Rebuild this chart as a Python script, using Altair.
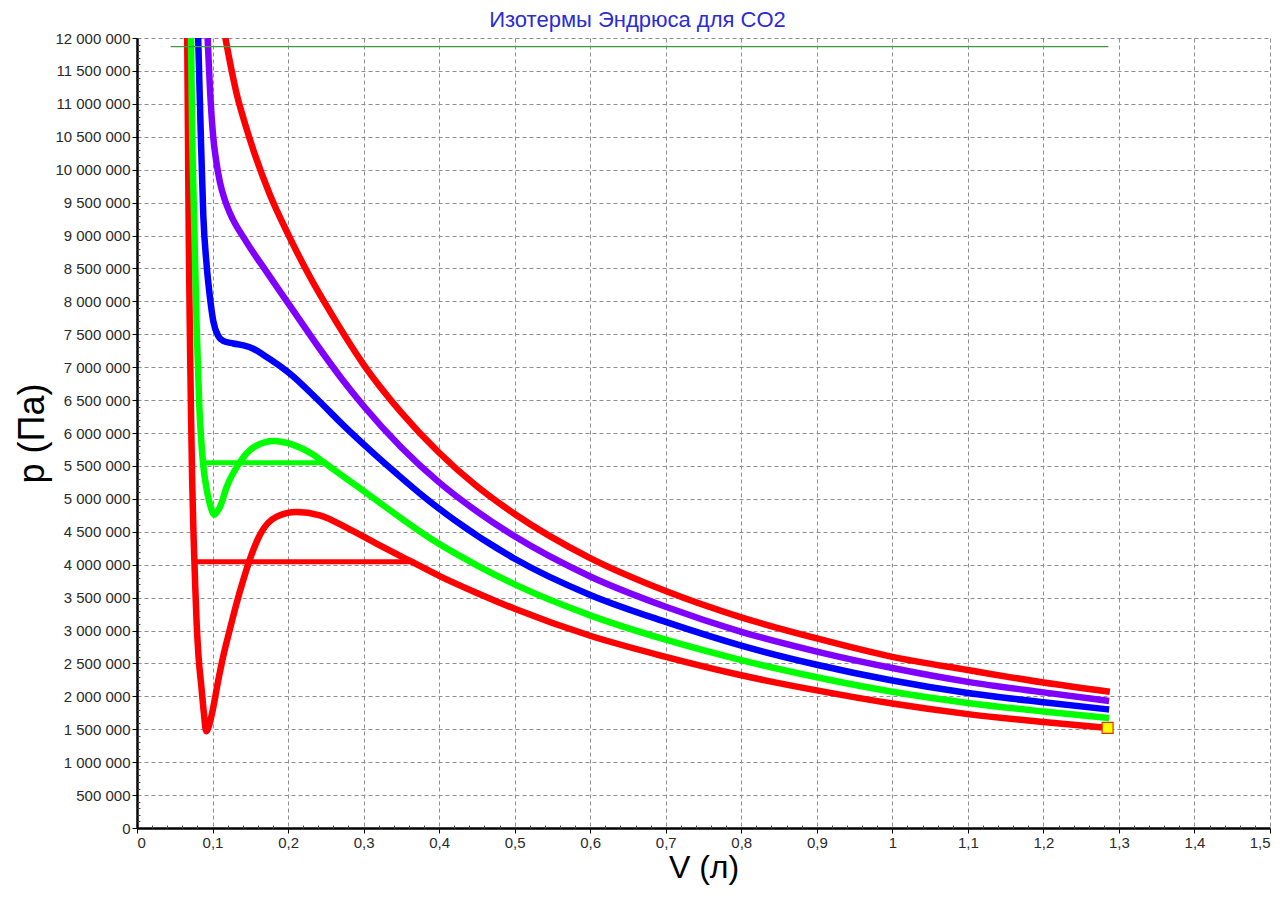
import altair as alt
import pandas as pd

# ---- values (V in litres, p in MPa) ----
V_t1 = [0.0665, 0.0675, 0.0685, 0.070, 0.0715, 0.073, 0.075, 0.077, 0.079, 0.0815, 0.0852,
        0.0885, 0.0916, 0.0955, 0.0997, 0.1077, 0.115, 0.123, 0.132, 0.1408, 0.150, 0.163,
        0.185, 0.211, 0.242, 0.278, 0.317, 0.361, 0.40, 0.45, 0.50, 0.60, 0.70, 0.80, 0.90,
        1.00, 1.10, 1.20, 1.286]
P_t1 = [12.0, 10.5, 9.0, 7.5, 6.3, 5.3, 4.4, 3.7, 3.1, 2.6, 2.15,
        1.75, 1.47, 1.56, 1.76, 2.25, 2.65, 3.02, 3.42, 3.77, 4.10, 4.46,
        4.73, 4.80, 4.75, 4.56, 4.32, 4.06, 3.83, 3.57, 3.33, 2.92, 2.60, 2.32, 2.09,
        1.89, 1.73, 1.61, 1.52]

V_t2 = [0.0715, 0.073, 0.0755, 0.079, 0.0825, 0.0856, 0.0878, 0.0922, 0.0975, 0.1024, 0.110,
        0.1187, 0.1364, 0.154, 0.1805, 0.207, 0.2335, 0.2467, 0.273, 0.3085, 0.3526, 0.388,
        0.45, 0.50, 0.60, 0.70, 0.80, 0.90, 1.00, 1.10, 1.20, 1.287]
P_t2 = [12.0, 10.6, 9.3, 7.6, 6.4, 5.8, 5.5, 5.15, 4.88, 4.76, 4.88,
        5.18, 5.56, 5.78, 5.88, 5.82, 5.67, 5.56, 5.34, 5.05, 4.68, 4.40,
        3.99, 3.70, 3.23, 2.86, 2.55, 2.29, 2.07, 1.90, 1.77, 1.67]

V_t3 = [0.081, 0.0843, 0.0878, 0.0922, 0.0967, 0.101, 0.1077, 0.114, 0.1275, 0.141, 0.154,
        0.167, 0.189, 0.2026, 0.238, 0.273, 0.3085, 0.344, 0.379, 0.42, 0.50, 0.60, 0.70,
        0.80, 0.90, 1.00, 1.10, 1.20, 1.287]
P_t3 = [12.0, 10.6, 9.3, 8.55, 8.05, 7.7, 7.47, 7.40, 7.36, 7.33, 7.28,
        7.19, 7.02, 6.90, 6.52, 6.12, 5.74, 5.38, 5.04, 4.68, 4.09, 3.54, 3.13,
        2.77, 2.48, 2.24, 2.05, 1.91, 1.80]

V_t4 = [0.0935, 0.0965, 0.1005, 0.105, 0.110, 0.116, 0.123, 0.145, 0.172, 0.2026, 0.24,
        0.27, 0.30, 0.35, 0.40, 0.45, 0.50, 0.60, 0.70, 0.80, 0.90, 1.00, 1.10, 1.20, 1.287]
P_t4 = [12.0, 11.25, 10.55, 10.12, 9.80, 9.55, 9.34, 8.90, 8.44, 7.93, 7.31,
        6.84, 6.41, 5.78, 5.25, 4.81, 4.43, 3.82, 3.36, 2.98, 2.68, 2.43, 2.22, 2.06, 1.93]

V_t5 = [0.117, 0.1245, 0.132, 0.143, 0.154, 0.176, 0.20, 0.23, 0.26, 0.30, 0.35, 0.40, 0.45,
        0.50, 0.60, 0.70, 0.80, 0.90, 1.00, 1.10, 1.20, 1.288]
P_t5 = [12.0, 11.55, 11.15, 10.70, 10.30, 9.62, 9.02, 8.35, 7.76, 7.04, 6.31, 5.70, 5.19,
        4.77, 4.10, 3.60, 3.20, 2.88, 2.60, 2.40, 2.21, 2.07]

# horizontal (Maxwell) segments
V_max_red = [0.074, 0.361]
P_max_red = [4.045, 4.045]
V_max_green = [0.087, 0.2467]
P_max_green = [5.55, 5.55]

# thin reference line near the top
V_top = [0.0446, 1.286]
P_top = [11.87, 11.87]

# marker
V_mark = [1.285]
P_mark = [1.52]

x_ticks = [round(0.1 * i, 1) for i in range(16)]
y_ticks = [500000 * i for i in range(25)]
x_minor = [round(0.02 * i, 2) for i in range(76) if i % 5 != 0]
y_minor = [100000 * i for i in range(121) if i % 5 != 0]

FONT = "Liberation Sans"


def frame(vs, ps):
    return pd.DataFrame({"V": vs, "p": [v * 1e6 for v in ps], "i": list(range(len(vs)))})


x_scale = alt.Scale(domain=[0, 1.5], nice=False, zero=False)
y_scale = alt.Scale(domain=[0, 12000000], nice=False, zero=False)

x_axis = alt.Axis(
    orient="bottom",
    values=x_ticks,
    labelExpr="replace(format(datum.value, '.1~f'), '.', ',')",
    title="V (л)",
    titleFontSize=32,
    titleFontWeight="normal",
    titleFont=FONT,
    titleColor="#000000",
    titleBaseline="alphabetic",
    titleY=49,
    grid=True,
)
y_axis = alt.Axis(
    orient="left",
    values=y_ticks,
    labelExpr="replace(format(datum.value, ','), regexp(',', 'g'), ' ')",
    title="p (Па)",
    titleFontSize=36,
    titleFontWeight="normal",
    titleFont=FONT,
    titleColor="#000000",
    titleBaseline="alphabetic",
    titleX=-94,
    titleY=395,
    grid=True,
)


def curve(vs, ps, color, width=6.5):
    return alt.Chart(frame(vs, ps)).mark_line(
        color=color, strokeWidth=width, interpolate="monotone", clip=True, strokeCap="butt"
    ).encode(
        x=alt.X("V:Q", scale=x_scale, axis=x_axis),
        y=alt.Y("p:Q", scale=y_scale, axis=y_axis),
        order="i:Q",
    )


def segment(vs, ps, color, width):
    return alt.Chart(frame(vs, ps)).mark_line(
        color=color, strokeWidth=width, clip=True, strokeCap="butt"
    ).encode(
        x=alt.X("V:Q", scale=x_scale, axis=x_axis),
        y=alt.Y("p:Q", scale=y_scale, axis=y_axis),
        order="i:Q",
    )


RED = "#ff0000"
GREEN = "#00ff00"
BLUE = "#0000ff"
PURPLE = "#8000ff"

marker = alt.Chart(frame(V_mark, P_mark)).mark_square(
    size=120, filled=True, fill="#ffff00", stroke="#e03000", strokeWidth=1.2, opacity=1
).encode(
    x=alt.X("V:Q", scale=x_scale, axis=x_axis),
    y=alt.Y("p:Q", scale=y_scale, axis=y_axis),
)

curves = alt.layer(
    curve(V_t1, P_t1, RED),
    segment(V_max_red, P_max_red, RED, 5),
    curve(V_t2, P_t2, GREEN),
    segment(V_max_green, P_max_green, GREEN, 5),
    curve(V_t3, P_t3, BLUE),
    curve(V_t4, P_t4, PURPLE),
    curve(V_t5, P_t5, RED),
    segment(V_top, P_top, "#3d9a3d", 1.3),
    marker,
)

minor = alt.Chart(frame(V_mark, P_mark)).mark_point(opacity=0).encode(
    x=alt.X("V:Q", scale=x_scale, axis=alt.Axis(
        orient="bottom", values=x_minor, labels=False, grid=False, domain=False,
        ticks=True, tickSize=3, offset=-3, title=None, tickColor="#444444")),
    y=alt.Y("p:Q", scale=y_scale, axis=alt.Axis(
        orient="left", values=y_minor, labels=False, grid=False, domain=False,
        ticks=True, tickSize=3, offset=-3, title=None, tickColor="#444444")),
)

chart = alt.layer(curves, minor).resolve_axis(x="independent", y="independent").properties(
    width=1133,
    height=790,
    padding={"left": 129, "top": 30, "right": 8, "bottom": 62},
    autosize=alt.AutoSizeParams(type="none"),
    title=alt.TitleParams(
        "Изотермы Эндрюса для CO2",
        color="#2b2bd8",
        fontSize=22,
        fontWeight="normal",
        font=FONT,
        anchor="middle",
        dx=-66,
        dy=11,
        offset=10,
    ),
).configure_view(stroke=None).configure_axis(
    domainColor="#000000",
    domainWidth=2.5,
    tickColor="#000000",
    tickSize=5,
    tickWidth=1,
    labelFont=FONT,
    labelFontSize=15,
    labelColor="#2a2a2a",
    labelPadding=2,
    gridColor="#8f8f8f",
    gridDash=[4, 3],
    gridWidth=1,
)

chart.save("out.html", embed_options={"renderer": "svg", "actions": False})
